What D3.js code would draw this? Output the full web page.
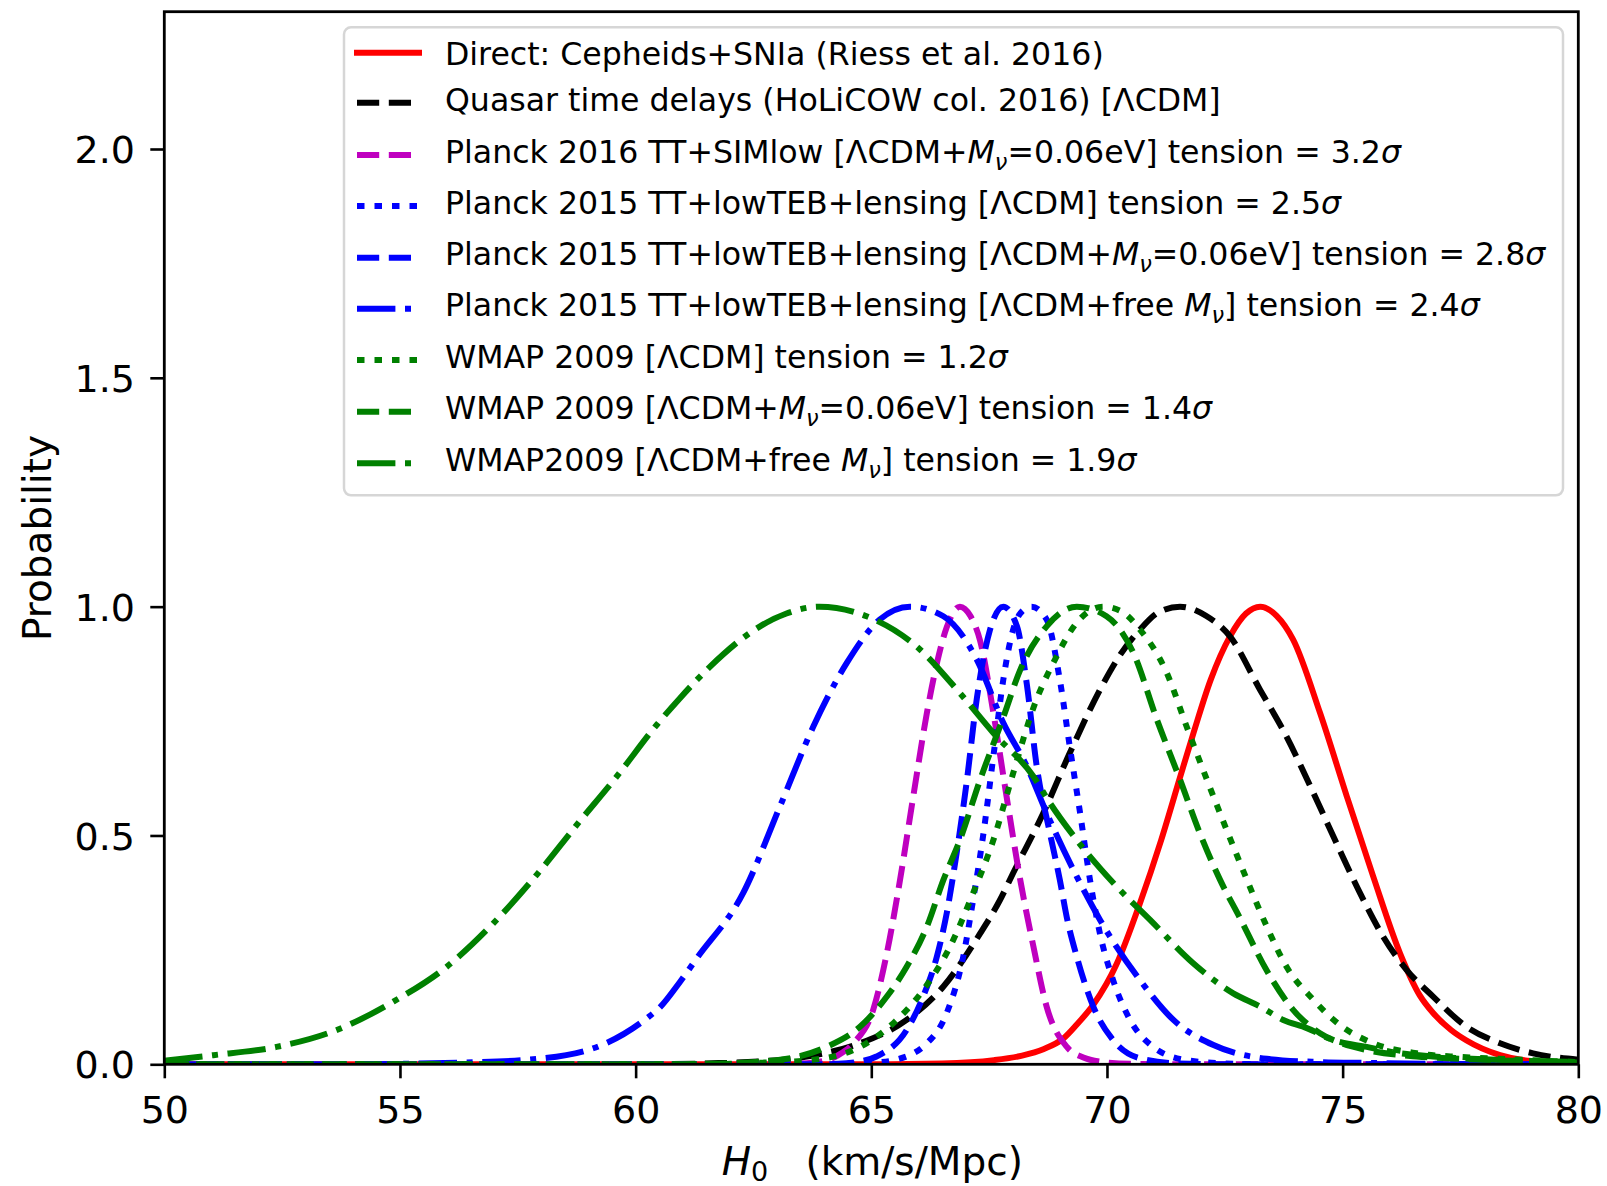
<!DOCTYPE html>
<html><head><meta charset="utf-8">
<script src="https://cdn.jsdelivr.net/npm/d3@7"></script>
<style>
body{margin:0;background:#fff;}
svg{display:block;}
text{font-family:"DejaVu Sans";white-space:pre;}
</style>
</head><body>
<svg id="c" width="1607" height="1186"></svg>
<script>
// ---------- data ----------
const xTicks=[50,55,60,65,70,75,80];
const yTicks=[0,0.5,1.0,1.5,2.0];

const riess=[[50,0],[62,0],[65,0.0003],[66.5,0.002],[67.6,0.009],[68.2,0.019],[68.65,0.033],[69.07,0.056],[69.36,0.087],[69.71,0.13],[70.21,0.22],[70.7,0.352],[71.15,0.49],[71.55,0.627],[71.83,0.722],[72.2,0.84],[72.61,0.935],[72.95,0.985],[73.25,1.0],[73.6,0.98],[73.95,0.928],[74.52,0.768],[75.09,0.585],[75.65,0.41],[76.22,0.242],[76.64,0.15],[76.92,0.112],[77.3,0.075],[77.63,0.052],[78.34,0.02],[79,0.007],[80,0.002]];
const holicow=[[50,0],[60,0],[61.5,0.002],[62.6,0.006],[63.7,0.018],[64.76,0.046],[65.75,0.097],[66.53,0.17],[67.31,0.286],[67.73,0.359],[68.01,0.418],[68.65,0.549],[69.21,0.68],[69.85,0.818],[70.25,0.89],[70.7,0.95],[71.1,0.988],[71.55,1.0],[72.1,0.98],[72.61,0.935],[73.25,0.818],[73.81,0.716],[74.38,0.593],[74.87,0.483],[75.37,0.374],[75.86,0.279],[76.36,0.206],[76.92,0.148],[77.63,0.082],[78.34,0.046],[79.04,0.024],[80,0.01]];
const planck16=[[50,0],[62.5,0],[63.5,0.002],[64.05,0.009],[64.3,0.02],[64.62,0.046],[65.04,0.119],[65.33,0.243],[65.61,0.403],[65.89,0.585],[66.18,0.768],[66.4,0.88],[66.6,0.955],[66.88,1.0],[67.1,0.98],[67.31,0.925],[67.59,0.768],[67.87,0.585],[68.16,0.403],[68.44,0.257],[68.72,0.126],[69.15,0.038],[69.5,0.015],[69.85,0.006],[70.5,0.001],[71.5,0],[80,0]];
const planck15=[[50,0],[63.5,0],[64.5,0.001],[65,0.003],[65.47,0.009],[66.18,0.046],[66.6,0.112],[66.95,0.235],[67.16,0.359],[67.38,0.505],[67.59,0.673],[67.8,0.84],[68.01,0.95],[68.2,0.99],[68.4,1.0],[68.72,0.972],[69.0,0.84],[69.21,0.695],[69.43,0.549],[69.64,0.403],[69.85,0.286],[70.13,0.184],[70.49,0.097],[70.98,0.038],[71.69,0.009],[72.5,0.002],[73.5,0],[80,0]];
const planck15nu=[[50,0],[63.5,0],[64.3,0.001],[64.7,0.005],[65.11,0.017],[65.75,0.075],[66.1,0.148],[66.39,0.235],[66.6,0.33],[66.81,0.461],[67.03,0.622],[67.24,0.80],[67.52,0.95],[67.8,1.0],[68.09,0.957],[68.3,0.83],[68.51,0.651],[68.79,0.505],[69.0,0.403],[69.15,0.32],[69.36,0.235],[69.71,0.126],[70.13,0.053],[70.7,0.013],[71.5,0.002],[72.5,0],[80,0]];
const planck15free=[[50,0],[53,0],[55,0.001],[56.4,0.004],[57.69,0.01],[59.1,0.035],[60.23,0.10],[60.52,0.125],[60.94,0.18],[61.3,0.232],[62.28,0.374],[63.06,0.563],[63.77,0.738],[64.48,0.877],[65.18,0.972],[65.82,1.0],[66.53,0.979],[67.24,0.884],[67.8,0.746],[68.3,0.651],[68.72,0.549],[69.36,0.41],[69.85,0.316],[70.7,0.184],[71.41,0.097],[72.26,0.042],[73.39,0.012],[74.5,0.005],[75.5,0.003],[77,0.001],[80,0]];
const wmap=[[50,0],[61,0],[62,0.001],[62.8,0.004],[63.7,0.009],[64.76,0.038],[65.47,0.09],[66.1,0.162],[66.67,0.257],[67.16,0.374],[67.59,0.49],[68.01,0.636],[68.45,0.782],[68.9,0.885],[69.36,0.965],[69.92,1.0],[70.3,0.99],[70.7,0.95],[71.27,0.855],[71.69,0.738],[72.12,0.622],[72.54,0.512],[72.97,0.403],[73.39,0.301],[73.81,0.213],[74.38,0.141],[74.94,0.086],[75.65,0.046],[76.57,0.024],[77.5,0.016],[78.3,0.012],[80,0.005]];
const wmapnu=[[50,0],[60,0],[61.5,0.001],[62.99,0.009],[64.05,0.038],[64.76,0.082],[65.33,0.148],[65.75,0.213],[66.18,0.301],[66.53,0.403],[66.88,0.49],[67.31,0.622],[67.8,0.758],[68.16,0.862],[68.72,0.957],[69.36,1.0],[69.99,0.979],[70.56,0.899],[71.06,0.753],[71.55,0.622],[71.97,0.505],[72.4,0.403],[72.82,0.32],[73.39,0.205],[73.95,0.119],[74.52,0.068],[75.0,0.045],[75.51,0.031],[76.57,0.017],[77.5,0.012],[80,0.004]];
const wmapfree=[[50,0.008],[51.04,0.02],[52.38,0.038],[53.66,0.075],[54.86,0.137],[55.99,0.213],[56.98,0.308],[57.9,0.414],[58.75,0.523],[59.6,0.629],[60.45,0.742],[60.94,0.8],[61.58,0.869],[62.64,0.957],[63.2,0.985],[63.9,1.0],[64.9,0.979],[65.96,0.913],[66.88,0.811],[67.59,0.724],[68.44,0.629],[68.79,0.571],[69.36,0.49],[70.21,0.388],[70.91,0.316],[71.83,0.221],[72.68,0.155],[73.25,0.126],[73.74,0.097],[74.24,0.079],[74.8,0.053],[75.51,0.038],[76.22,0.024],[76.92,0.017],[78.5,0.009],[80,0.005]];

const legendLabels=[
 [["Direct: Cepheids+SNIa (Riess et al. 2016)"]],
 [["Quasar time delays (HoLiCOW col. 2016) [ΛCDM]"]],
 [["Planck 2016 TT+SIMlow [ΛCDM+"],["M","i"],["ν","sub"],["=0.06eV] tension = 3.2"],["σ","i"]],
 [["Planck 2015 TT+lowTEB+lensing [ΛCDM] tension = 2.5"],["σ","i"]],
 [["Planck 2015 TT+lowTEB+lensing [ΛCDM+"],["M","i"],["ν","sub"],["=0.06eV] tension = 2.8"],["σ","i"]],
 [["Planck 2015 TT+lowTEB+lensing [ΛCDM+free "],["M","i"],["ν","sub"],["] tension = 2.4"],["σ","i"]],
 [["WMAP 2009 [ΛCDM] tension = 1.2"],["σ","i"]],
 [["WMAP 2009 [ΛCDM+"],["M","i"],["ν","sub"],["=0.06eV] tension = 1.4"],["σ","i"]],
 [["WMAP2009 [ΛCDM+free "],["M","i"],["ν","sub"],["] tension = 1.9"],["σ","i"]]
];

// ---------- styles ----------
const DASH="22.2,9.6", DOT="7.5,10", DASHDOT="38.4,9.6,6,9.6";
const styles=[
 {color:"#ff0000",dash:null},
 {color:"#000000",dash:DASH},
 {color:"#bf00bf",dash:DASH},
 {color:"#0000ff",dash:DOT},
 {color:"#0000ff",dash:DASH},
 {color:"#0000ff",dash:DASHDOT},
 {color:"#008000",dash:DOT},
 {color:"#008000",dash:DASH},
 {color:"#008000",dash:DASHDOT}
];
const seriesData=[riess,holicow,planck16,planck15,planck15nu,planck15free,wmap,wmapnu,wmapfree];

// ---------- layout ----------
const L=164.3,R=1578.3,T=11.7,B=1064.3;
const svg=d3.select("#c");
const x=d3.scaleLinear().domain([50,80]).range([L,R]);
const y=d3.scaleLinear().domain([0,2.3]).range([B,T]);

svg.append("defs").append("clipPath").attr("id","clip")
  .append("rect").attr("x",L).attr("y",T).attr("width",R-L).attr("height",B-T);

const line=d3.line().x(d=>x(d[0])).y(d=>y(d[1])).curve(d3.curveMonotoneX);
const gLines=svg.append("g").attr("clip-path","url(#clip)");
seriesData.forEach((data,i)=>{
  const s=styles[i];
  gLines.append("path").datum(data).attr("d",line)
    .attr("fill","none").attr("stroke",s.color).attr("stroke-width",6)
    .attr("stroke-dasharray",s.dash).attr("stroke-linecap",s.dash?"butt":"square")
    .attr("stroke-linejoin","round");
});

// axes
const tickFont=38;
const gx=svg.append("g").attr("transform",`translate(0,${B})`)
  .call(d3.axisBottom(x).tickValues(xTicks).tickSize(14).tickFormat(d3.format("d")));
gx.select(".domain").remove();
gx.selectAll(".tick line").attr("stroke","#000").attr("stroke-width",2.6);
gx.selectAll(".tick text").attr("y",58.4).attr("dy",null)
  .attr("font-size",tickFont).attr("font-family","DejaVu Sans").attr("fill","#000");

const gy=svg.append("g").attr("transform",`translate(${L},0)`)
  .call(d3.axisLeft(y).tickValues(yTicks).tickSize(14).tickFormat(d3.format(".1f")));
gy.select(".domain").remove();
gy.selectAll(".tick line").attr("stroke","#000").attr("stroke-width",2.6);
gy.selectAll(".tick text").attr("x",-29.3).attr("dy","0.36em")
  .attr("font-size",tickFont).attr("font-family","DejaVu Sans").attr("fill","#000");

// frame
svg.append("rect").attr("x",L).attr("y",T).attr("width",R-L).attr("height",B-T)
  .attr("fill","none").attr("stroke","#000").attr("stroke-width",2.8);

// axis labels
svg.append("text").attr("transform","translate(51,538) rotate(-90)")
  .attr("text-anchor","middle").attr("font-size",39).text("Probability");
const xl=svg.append("text").attr("x",(L+R)/2+1).attr("y",1175)
  .attr("text-anchor","middle").attr("font-size",39);
xl.append("tspan").attr("font-style","italic").text("H");
xl.append("tspan").attr("font-size",27).attr("dy",6).text("0");
xl.append("tspan").attr("dy",-6).text("   (km/s/Mpc)");

// legend
const lg=svg.append("g");
lg.append("rect").attr("x",344).attr("y",27.3).attr("width",1219).attr("height",468)
  .attr("rx",7).attr("fill","#fff").attr("fill-opacity",0.8)
  .attr("stroke","#d6d6d6").attr("stroke-width",2.5);
const rowLine=[52.7,102.7,155,206,257.7,308.7,360,411.7,463.3];
const rowBase=[64.5,110.8,162.5,213.5,265,316,367.7,419.3,470.7];
legendLabels.forEach((parts,i)=>{
  const s=styles[i];
  lg.append("line").attr("x1",357).attr("x2",419).attr("y1",rowLine[i]).attr("y2",rowLine[i])
    .attr("stroke",s.color).attr("stroke-width",6).attr("stroke-dasharray",s.dash)
    .attr("stroke-linecap",s.dash?"butt":"square");
  const t=lg.append("text").attr("x",445).attr("y",rowBase[i]).attr("font-size",31.6).attr("fill","#000");
  let shifted=false;
  parts.forEach(p=>{
    const ts=t.append("tspan").text(p[0]);
    if(p[1]==="i"){ts.attr("font-style","italic"); if(shifted){ts.attr("dy",-7);shifted=false;}}
    else if(p[1]==="sub"){ts.attr("font-style","italic").attr("font-size",22.5).attr("dy",7);shifted=true;}
    else if(shifted){ts.attr("dy",-7);shifted=false;}
  });
});
</script>
</body></html>
